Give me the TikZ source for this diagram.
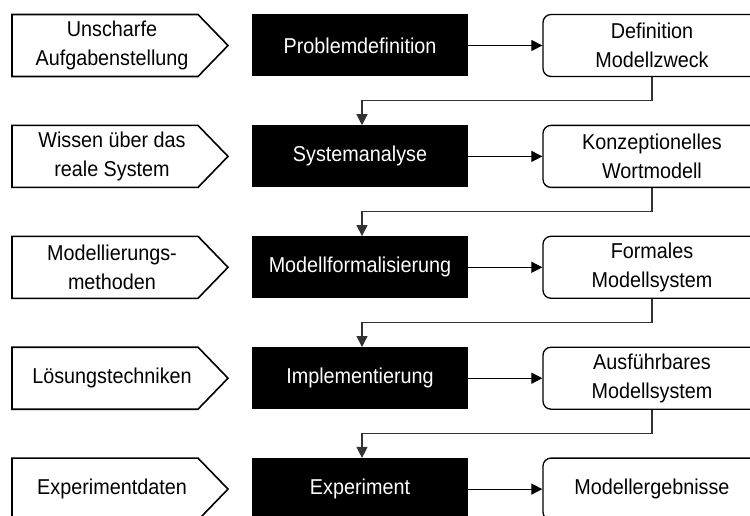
\documentclass[tikz,border=0pt]{standalone}
\usepackage{fontspec}
\setmainfont[FakeStretch=0.92]{Liberation Sans}
\usetikzlibrary{arrows.meta}
\begin{document}
\begin{tikzpicture}[x=1pt,y=-1pt,
  txt/.style={font=\fontsize{21.5}{29.5}\selectfont, align=center, inner sep=0pt},
  blk/.style={txt, fill=black, text=white, minimum width=216pt, minimum height=62pt},
  res/.style={txt, draw=black, line width=1.3pt, rounded corners=8pt, minimum width=218pt, minimum height=62pt},
  pent/.style={draw=black, line width=1.6pt},
  arr/.style={draw=black, line width=1.2pt, -{Triangle[length=11pt,width=11pt]}},
  con/.style={draw=black!80, line width=1.2pt, -{Triangle[length=11pt,width=11pt]}}]
\useasboundingbox (0,0) rectangle (750,516);
% input pentagons
\foreach \yc in {45.5,156.4,267.3,378.2,489.1}{
  \draw[pent] (12,\yc-31) -- (198,\yc-31) -- (228,\yc) -- (198,\yc+31) -- (12,\yc+31) -- cycle;
}
\node[txt] (l1) at (112,45.5) {Unscharfe\\Aufgabenstellung};
\node[txt] (l2) at (112,156.4) {Wissen über das\\reale System};
\node[txt] (l3) at (112,267.3) {Modellierungs-\\methoden};
\node[txt] (l4) at (112,378.2) {Lösungstechniken};
\node[txt] (l5) at (112,489.1) {Experimentdaten};
% process boxes
\node[blk] (b1) at (360,45.5) {Problemdefinition};
\node[blk] (b2) at (360,156.4) {Systemanalyse};
\node[blk] (b3) at (360,267.3) {Modellformalisierung};
\node[blk] (b4) at (360,378.2) {Implementierung};
\node[blk] (b5) at (360,489.1) {Experiment};
% result boxes
\node[res] (r1) at (652,45.5) {Definition\\Modellzweck};
\node[res] (r2) at (652,156.4) {Konzeptionelles\\Wortmodell};
\node[res] (r3) at (652,267.3) {Formales\\Modellsystem};
\node[res] (r4) at (652,378.2) {Ausführbares\\Modellsystem};
\node[res] (r5) at (652,489.1) {Modellergebnisse};
% horizontal arrows
\foreach \i in {1,...,5}{
  \draw[arr] (b\i.east) -- (r\i.west);
}
% feedback connectors
\coordinate (k1) at (362,100.5);
\coordinate (k2) at (362,211.5);
\coordinate (k3) at (362,322.5);
\coordinate (k4) at (362,433.5);
\draw[con] (r1.south) |- (k1) -- (k1 |- b2.north);
\draw[con] (r2.south) |- (k2) -- (k2 |- b3.north);
\draw[con] (r3.south) |- (k3) -- (k3 |- b4.north);
\draw[con] (r4.south) |- (k4) -- (k4 |- b5.north);
\end{tikzpicture}
\end{document}
